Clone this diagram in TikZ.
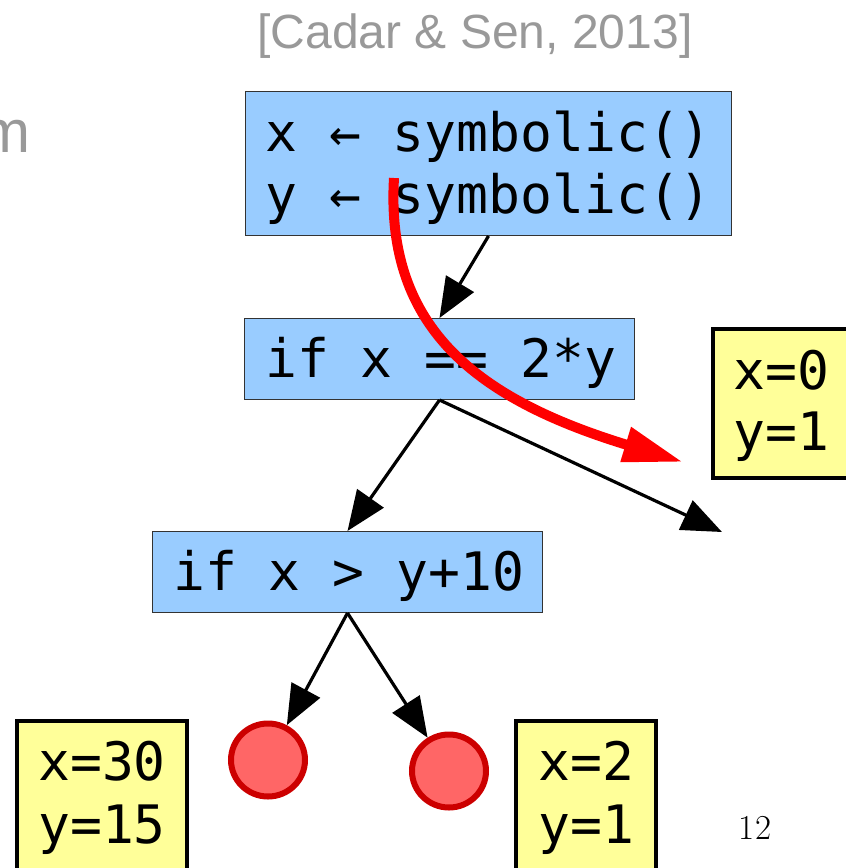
\documentclass[tikz,border=0pt]{standalone}
\usepackage{fontspec}
\setmonofont{DejaVu Sans Mono}
\newfontfamily\graysans{Liberation Sans}
\usetikzlibrary{arrows.meta}
\definecolor{boxblue}{HTML}{99CCFF}
\definecolor{boxyellow}{HTML}{FFFF99}
\definecolor{leaffill}{HTML}{FF6666}
\definecolor{leafline}{HTML}{CC0000}
\definecolor{citegray}{HTML}{999999}
\tikzset{
  bluebox/.style={draw=black!80, line width=1pt, fill=boxblue, rectangle, anchor=north west, inner sep=0pt},
  yellowbox/.style={draw=black, line width=3.5pt, fill=boxyellow, rectangle, anchor=north west, inner sep=0pt},
  leaf/.style={draw=leafline, line width=6pt, fill=leaffill, ellipse, minimum width=74pt, minimum height=73pt, inner sep=0pt},
  code/.style={anchor=base west, inner sep=0pt, font=\ttfamily\fontsize{53}{62}\selectfont},
  edge/.style={draw=black, line width=3.2pt, -{Triangle[length=40pt,width=32pt]}},
  path/.style={draw=red, line width=10pt, -{Triangle[length=60pt,width=34pt]}},
}
\usetikzlibrary{shapes.geometric}
\begin{document}
\begin{tikzpicture}[x=1pt,y=-1pt]
\useasboundingbox (0,0) rectangle (846,868);
\clip (0,0) rectangle (846,868);
% gray text
\node[anchor=base, inner sep=0pt, text=citegray, font=\graysans\fontsize{48}{56}\selectfont] (cite) at (475,48) {[Cadar \& Sen, 2013]};
\node[anchor=base east, inner sep=0pt, text=citegray, font=\graysans\fontsize{60}{70}\selectfont] (mcut) at (31,152) {m};
% boxes
\node[bluebox, minimum width=486pt, minimum height=144pt] (b1) at (245,91) {};
\node[code] (b1t1) at (265,151) {x ← symbolic()};
\node[code] (b1t2) at (265,213) {y ← symbolic()};
\node[bluebox, minimum width=390pt, minimum height=81pt] (b2) at (244,318) {};
\node[code] (b2t) at (265,377) {if x == 2*y};
\node[bluebox, minimum width=390pt, minimum height=81pt] (b3) at (152,531) {};
\node[code] (b3t) at (173,590) {if x > y+10};
% yellow boxes
\node[yellowbox, minimum width=160pt, minimum height=149pt] (y1) at (711,327) {};
\node[code] (y1a) at (733,389) {x=0};
\node[code] (y1b) at (733,450) {y=1};
\node[yellowbox, minimum width=170pt, minimum height=170pt] (y2) at (15,719) {};
\node[code] (y2a) at (38,780) {x=30};
\node[code] (y2b) at (38,843) {y=15};
\node[yellowbox, minimum width=140pt, minimum height=170pt] (y3) at (514,719) {};
\node[code] (y3a) at (538,780) {x=2};
\node[code] (y3b) at (538,843) {y=1};
% leaves
\node[leaf] (c1) at (268,760) {};
\node[leaf] (c2) at (449,771) {};
% edges
\coordinate (free) at (722,532);
\draw[edge] (b1.south) -- (b2.north);
\draw[edge] (b2.south) -- (b3.north);
\draw[edge] (b2.south) -- (free);
\draw[edge] (b3.south) -- (c1);
\draw[edge] (b3.south) -- (c2);
% red path
\coordinate (ps) at (394,178);
\coordinate (pe) at (683,462);
\draw[path] (ps) .. controls (385,330) and (480,400) .. (pe);
% page number
\node[anchor=base, inner sep=0pt, font=\fontsize{35}{42}\selectfont] (pg) at (755,839) {12};
\end{tikzpicture}
\end{document}
